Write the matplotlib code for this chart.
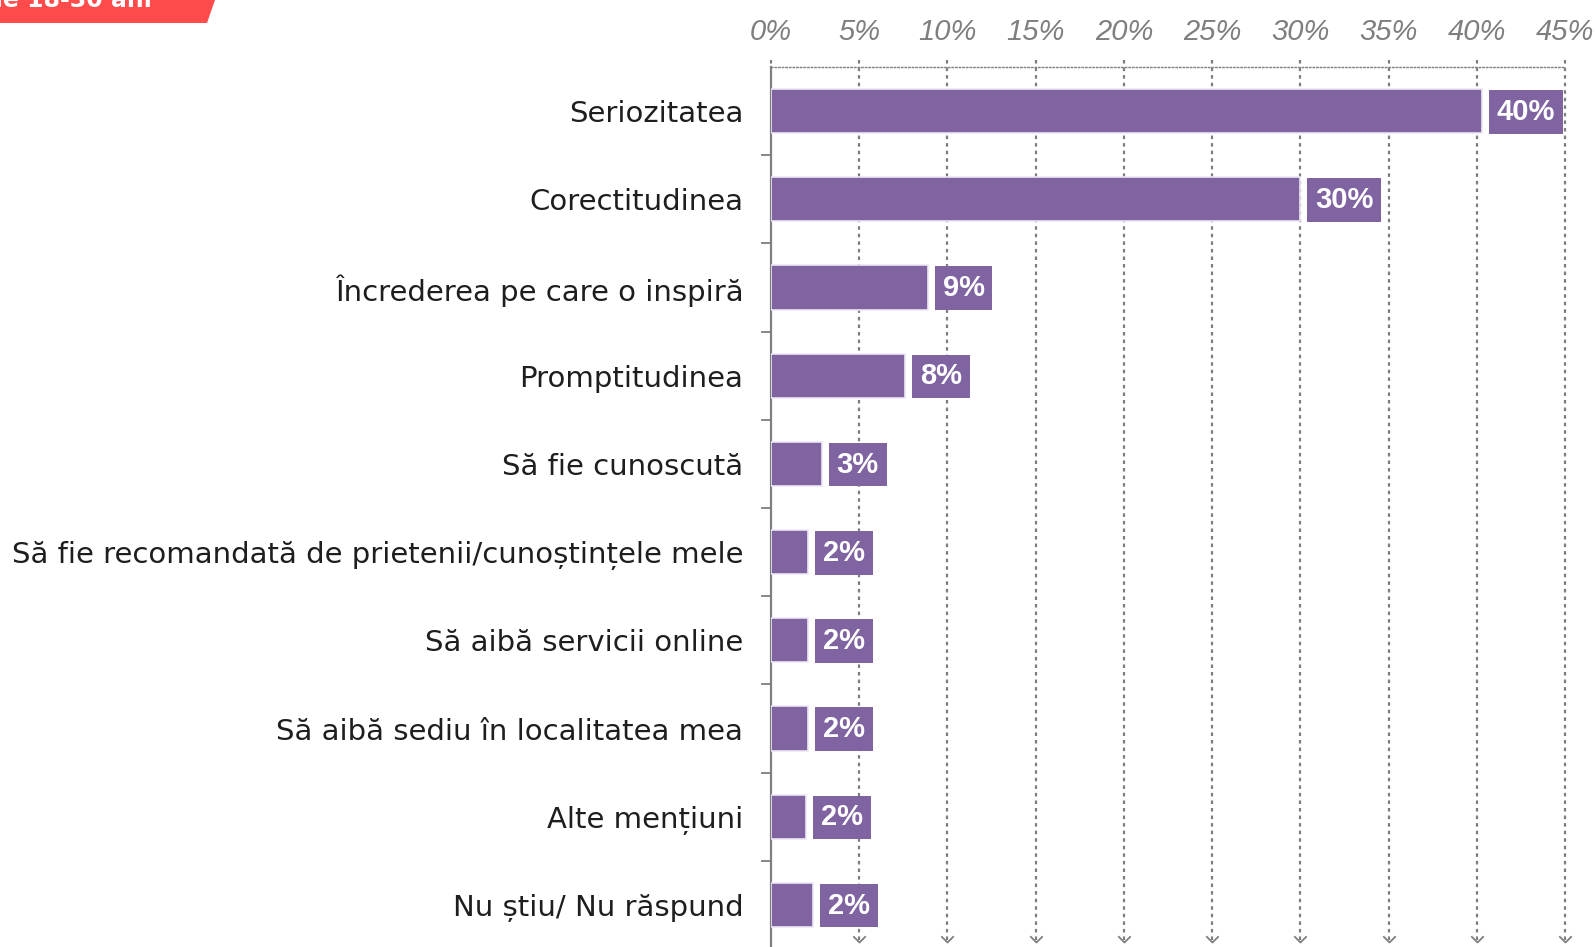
import matplotlib
matplotlib.use("Agg")
from matplotlib import pyplot as plt
from matplotlib.patches import Polygon
import numpy as np

# data
categories = ["Seriozitatea", "Corectitudinea", "Încrederea pe care o inspiră",
              "Promptitudinea", "Să fie cunoscută",
              "Să fie recomandată de prietenii/cunoștințele mele",
              "Să aibă servicii online", "Să aibă sediu în localitatea mea",
              "Alte mențiuni", "Nu știu/ Nu răspund"]
values = [40.3, 30.0, 8.9, 7.6, 2.9, 2.1, 2.1, 2.1, 2.0, 2.4]
labels = ["40%", "30%", "9%", "8%", "3%", "2%", "2%", "2%", "2%", "2%"]
xticks = [0, 5, 10, 15, 20, 25, 30, 35, 40, 45]
banner_text = "de 18-30 ani"

purple = "#8064A2"
grey = "#7f7f7f"

W, H = 1595, 947
fig = plt.figure(figsize=(W / 100, H / 100), dpi=100)
ax = fig.add_axes([771 / W, 1 - 949 / H, 794 / W, 882 / H])

y = np.arange(len(categories))
ax.barh(y, values, height=0.5, color=purple, edgecolor="#ece6f2", linewidth=1.2, zorder=3)

# value boxes right of each bar
for i, (v, lab) in enumerate(zip(values, labels)):
    ax.annotate(lab, xy=(v, i), xytext=(10.5, -0.5), textcoords="offset points",
                ha="left", va="center", color="white", fontsize=21, fontweight="bold",
                family=["Liberation Sans", "DejaVu Sans"], zorder=5,
                bbox=dict(boxstyle="square,pad=0.27", fc=purple, ec="none"))

ax.set_xlim(0, 45)
ax.set_ylim(len(categories) - 0.5, -0.5)

# dotted verticals with chevron arrowheads at the bottom
for xv in xticks[1:]:
    ax.plot([xv, xv], [-0.58, 9.42], color=grey, lw=1.6, ls=(0, (1.6, 1.8)),
            clip_on=False, zorder=1)
    ax.plot([xv], [9.42], marker=[(-1, 1), (0, 0), (1, 1)], ms=9, mfc="none",
            mec=grey, mew=1.3, clip_on=False, zorder=1)
ax.plot([0, 0], [-0.58, -0.5], color=grey, lw=1.6, ls=(0, (1.6, 1.8)), clip_on=False)

for s in ["right", "bottom"]:
    ax.spines[s].set_visible(False)
ax.spines["top"].set_linestyle((0, (1, 1.6)))
ax.spines["top"].set_color(grey)
ax.spines["top"].set_linewidth(1.0)
ax.spines["left"].set_color(grey)
ax.spines["left"].set_linewidth(1.6)

ax.xaxis.tick_top()
ax.set_xticks(xticks)
ax.set_xticklabels([f"{t}%" for t in xticks], color=grey, fontsize=21, style="italic",
                   family=["Liberation Sans", "DejaVu Sans"])
ax.tick_params(axis="x", length=0, pad=15)

ax.set_yticks(y)
ax.set_yticklabels(categories, fontsize=21, color="#1e1e1e", family="DejaVu Sans")
ax.set_yticks(np.arange(len(categories)) + 0.5, minor=True)
ax.tick_params(axis="y", which="major", length=0, pad=20)
ax.tick_params(axis="y", which="minor", length=7, width=1.3, color=grey)

# red banner, cut at the top-left corner
fig.patches.append(Polygon([(0, 1), (215 / W, 1), (207 / W, 1 - 23 / H), (0, 1 - 23 / H)],
                           closed=True, transform=fig.transFigure, fc="#FF4B4B", ec="none"))
fig.text(152 / W, 1 - 7 / H, banner_text, ha="right", va="baseline", color="white",
         fontsize=17, fontweight="bold", family="DejaVu Sans")

fig.savefig("out.png", dpi=100)
